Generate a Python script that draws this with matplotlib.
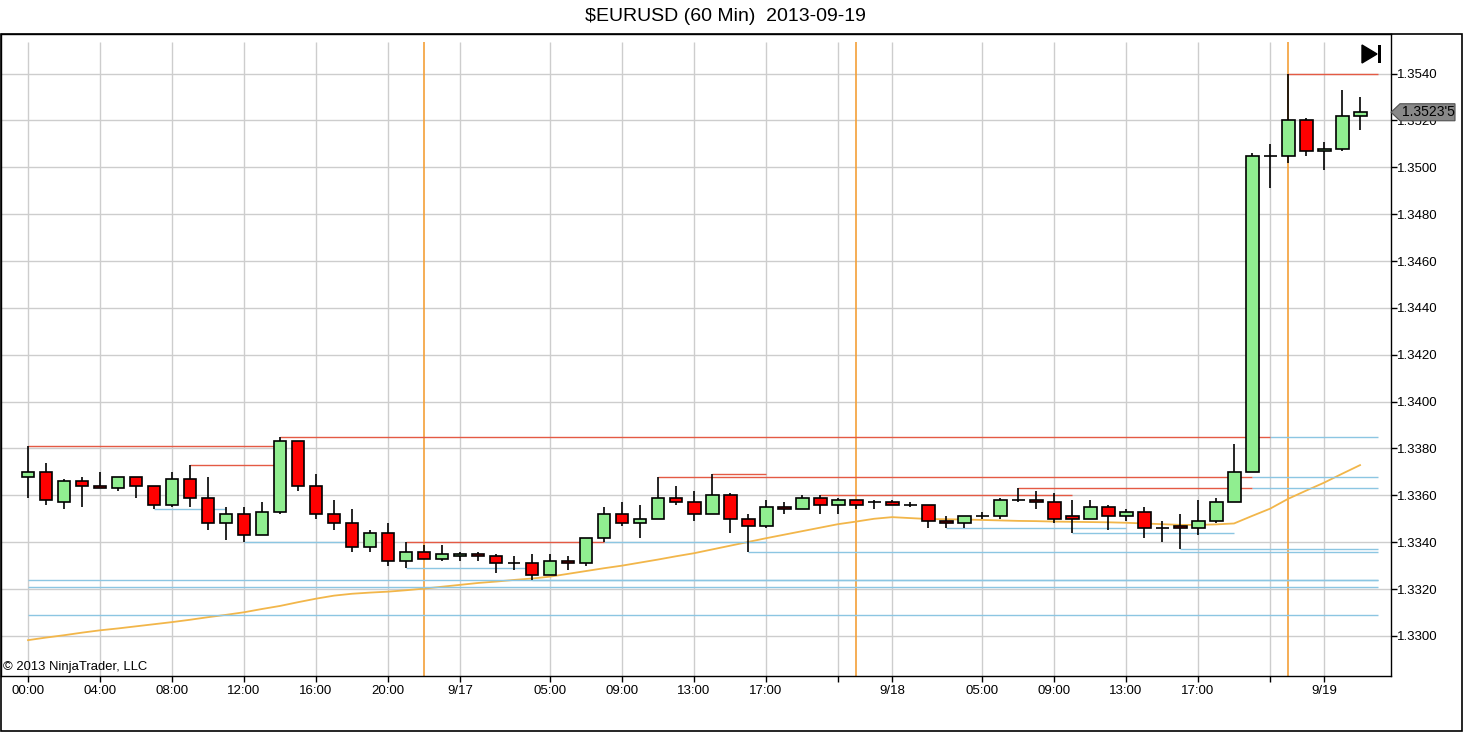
import matplotlib
matplotlib.use('Agg')
import matplotlib.pyplot as plt
from matplotlib.patches import Rectangle, Polygon

W, H = 1463, 732

# hourly bars, 9/16 00:00 .. 9/19 02:00
opens = [1.3368, 1.3370, 1.3357, 1.3366, 1.3364, 1.3363, 1.3368, 1.3364, 1.3356, 1.3367,
         1.3359, 1.3348, 1.3352, 1.3343, 1.3353, 1.3383, 1.3364, 1.3352, 1.3348, 1.3338,
         1.3344, 1.3332, 1.3336, 1.3333, 1.3334, 1.3335, 1.3334, 1.3331, 1.3331, 1.3326,
         1.3332, 1.3331, 1.3342, 1.3352, 1.3348, 1.3350, 1.3359, 1.3357, 1.3352, 1.3360,
         1.3350, 1.3347, 1.3355, 1.3354, 1.3359, 1.3356, 1.3358, 1.3357, 1.3357, 1.3356,
         1.3356, 1.3349, 1.3348, 1.3351, 1.3351, 1.3358, 1.3358, 1.3357, 1.3351, 1.3350,
         1.3355, 1.3351, 1.3353, 1.3346, 1.3347, 1.3346, 1.3349, 1.3357, 1.3370, 1.3505,
         1.3505, 1.3520, 1.3507, 1.3508, 1.3522]
highs = [1.3381, 1.3374, 1.3367, 1.3368, 1.3370, 1.3368, 1.3368, 1.3364, 1.3370, 1.3373,
         1.3368, 1.3355, 1.3355, 1.3357, 1.3385, 1.3383, 1.3369, 1.3358, 1.3354, 1.3345,
         1.3348, 1.3340, 1.3339, 1.3339, 1.3336, 1.3336, 1.3335, 1.3334, 1.3335, 1.3335,
         1.3334, 1.3342, 1.3355, 1.3357, 1.3356, 1.3368, 1.3364, 1.3362, 1.3369, 1.3361,
         1.3352, 1.3358, 1.3357, 1.3360, 1.3360, 1.3359, 1.3358, 1.3358, 1.3358, 1.3357,
         1.3356, 1.3351, 1.3351, 1.3353, 1.3359, 1.3363, 1.3362, 1.3361, 1.3358, 1.3358,
         1.3356, 1.3354, 1.3355, 1.3349, 1.3352, 1.3358, 1.3359, 1.3382, 1.3506, 1.3510,
         1.3540, 1.3521, 1.3511, 1.3533, 1.3530]
lows = [1.3359, 1.3356, 1.3354, 1.3355, 1.3363, 1.3362, 1.3359, 1.3354, 1.3355, 1.3355,
        1.3345, 1.3341, 1.3340, 1.3343, 1.3352, 1.3362, 1.3350, 1.3345, 1.3336, 1.3336,
        1.3330, 1.3329, 1.3333, 1.3332, 1.3332, 1.3332, 1.3327, 1.3328, 1.3324, 1.3326,
        1.3328, 1.3330, 1.3340, 1.3347, 1.3342, 1.3350, 1.3356, 1.3349, 1.3352, 1.3344,
        1.3336, 1.3346, 1.3352, 1.3354, 1.3352, 1.3352, 1.3354, 1.3354, 1.3356, 1.3355,
        1.3346, 1.3346, 1.3346, 1.3350, 1.3350, 1.3357, 1.3354, 1.3348, 1.3344, 1.3350,
        1.3345, 1.3349, 1.3342, 1.3340, 1.3337, 1.3343, 1.3348, 1.3357, 1.3370, 1.3491,
        1.3502, 1.3505, 1.3499, 1.3507, 1.3516]
closes = [1.3370, 1.3358, 1.3366, 1.3364, 1.3363, 1.3368, 1.3364, 1.3356, 1.3367, 1.3359,
          1.3348, 1.3352, 1.3343, 1.3353, 1.3383, 1.3364, 1.3352, 1.3348, 1.3338, 1.3344,
          1.3332, 1.3336, 1.3333, 1.3335, 1.3335, 1.3334, 1.3331, 1.3331, 1.3326, 1.3332,
          1.3331, 1.3342, 1.3352, 1.3348, 1.3350, 1.3359, 1.3357, 1.3352, 1.3360, 1.3350,
          1.3347, 1.3355, 1.3354, 1.3359, 1.3356, 1.3358, 1.3356, 1.3357, 1.3356, 1.3356,
          1.3349, 1.3348, 1.3351, 1.3351, 1.3358, 1.3358, 1.3357, 1.3350, 1.3350, 1.3355,
          1.3351, 1.3353, 1.3346, 1.3346, 1.3346, 1.3349, 1.3357, 1.3370, 1.3505, 1.3505,
          1.3520, 1.3507, 1.3508, 1.3522, 1.35235]

# moving average (orange line)
ma = [1.32982, 1.32993, 1.33003, 1.33014, 1.33024, 1.33032, 1.33041, 1.33050, 1.33059, 1.33069,
      1.33080, 1.33090, 1.33101, 1.33115, 1.33128, 1.33144, 1.33159, 1.33172, 1.33180, 1.33185,
      1.33189, 1.33195, 1.33202, 1.33210, 1.33218, 1.33226, 1.33232, 1.33239, 1.33245, 1.33253,
      1.33265, 1.33277, 1.33289, 1.33300, 1.33313, 1.33326, 1.33340, 1.33353, 1.33369, 1.33385,
      1.33401, 1.33417, 1.33432, 1.33447, 1.33462, 1.33477, 1.33488, 1.33500, 1.33507, 1.33503,
      1.33499, 1.33498, 1.33497, 1.33495, 1.33493, 1.33491, 1.33490, 1.33488, 1.33487, 1.33486,
      1.33485, 1.33483, 1.33480, 1.33477, 1.33474, 1.33474, 1.33476, 1.33480, 1.33512, 1.33543,
      1.33585, 1.33620, 1.33654, 1.33692, 1.33729]

# swing highs (red) and swing lows / broken highs (blue): price, first bar, last bar
res_price = [1.3381, 1.3373, 1.3385, 1.3340, 1.3368, 1.3369, 1.3360, 1.3363, 1.3540]
res_start = [0, 9, 14, 21, 35, 38, 44, 55, 70]
res_end = [14, 14, 69, 32, 68, 41, 58, 68, 75]
sup_price = [1.3354, 1.3340, 1.3329, 1.3324, 1.3324, 1.3321, 1.3309, 1.3340,
             1.3336, 1.3346, 1.3344, 1.3337, 1.3385, 1.3368, 1.3363]
sup_start = [7, 12, 21, 0, 28, 0, 0, 32, 40, 51, 58, 64, 69, 68, 68]
sup_end = [11, 18, 28, 75, 75, 75, 75, 41, 75, 61, 67, 75, 75, 75, 75]

tick_pos = [0, 4, 8, 12, 16, 20, 24, 29, 33, 37, 41, 45, 48, 53, 57, 61, 65, 69, 72]
tick_lab = ['00:00', '04:00', '08:00', '12:00', '16:00', '20:00', '9/17', '05:00', '09:00',
            '13:00', '17:00', '', '9/18', '05:00', '09:00', '13:00', '17:00', '', '9/19']
session_breaks = [22, 46, 70]
price_ticks = [1.3300 + 0.002 * k for k in range(13)]
last_label = "1.3523'5"

plt.rcParams['font.family'] = ['Liberation Sans', 'DejaVu Sans']

fig = plt.figure(figsize=(W / 100, H / 100), dpi=100)
ax = fig.add_axes([1 / W, (H - 676) / H, 1390 / W, 642 / H])

ylo, yhi = 1.32829, 1.35569
ax.set_xlim(-1.5, 75.72)
ax.set_ylim(ylo, yhi)
ax.set_axisbelow(True)
grid_top = 1.35535  # vertical lines stop a little below the top frame

ax.set_xticks(tick_pos)
ax.set_xticklabels(tick_lab)
ax.set_yticks(price_ticks)
ax.set_yticklabels(['%.4f' % p for p in price_ticks])
ax.yaxis.tick_right()
ax.tick_params(axis='both', direction='out', length=4, width=1, labelsize=9.5, colors='black')
ax.tick_params(axis='y', pad=0.5)
ax.tick_params(axis='x', pad=2.5)
ax.grid(True, axis='y', color='#cdcdcd', lw=1)
ax.vlines(tick_pos, ylo, grid_top, color='#cdcdcd', lw=1, zorder=0)
for s in ax.spines.values():
    s.set_color('black')
    s.set_linewidth(1)

ax.vlines(session_breaks, ylo, grid_top, color='#f4a038', lw=1.2, zorder=1)

ax.plot(range(len(ma)), ma, color='#f2b64a', lw=1.3, zorder=2)

ax.hlines(sup_price, sup_start, sup_end, color='#8cc6e2', lw=1, zorder=2)
ax.hlines(res_price, res_start, res_end, color='#e45a44', lw=1, zorder=2)

# candles
for i in range(len(opens)):
    o, h, l, c = opens[i], highs[i], lows[i], closes[i]
    ax.vlines(i, l, h, color='black', lw=1.2, zorder=3)
    fc = '#90ee90' if c > o else ('#ff0000' if c < o else 'black')
    ax.add_patch(Rectangle((i - 0.36, min(o, c)), 0.72, abs(c - o),
                           fc=fc, ec='black', lw=1.2, zorder=4))

ax.text(0.0015, 0.005, '\u00a9 2013 NinjaTrader, LLC', transform=ax.transAxes,
        ha='left', va='bottom', fontsize=9.4)

# last price marker, drawn in pixels next to the right axis
x_r = ax.transAxes.transform((1, 0))[0]
y_c = ax.transData.transform((0, closes[-1]))[1]
marker = Polygon([(x_r, y_c), (x_r + 9, y_c + 8.5), (x_r + 64, y_c + 8.5),
                  (x_r + 64, y_c - 8.5), (x_r + 9, y_c - 8.5)], closed=True,
                 fc='#888888', ec='#505050', lw=0.8, transform=None, zorder=10)
fig.add_artist(marker)
fig.text((x_r + 11) / W, y_c / H, last_label, ha='left', va='center', fontsize=10,
         color='black', zorder=11)


def fxy(px, py):
    return (px / W, 1 - py / H)


# "go to end" icon
fig.add_artist(Polygon([fxy(1362, 45), fxy(1362, 63), fxy(1377, 54)],
                       closed=True, fc='black', ec='black', transform=fig.transFigure))
fig.add_artist(Rectangle(fxy(1378, 63), 3 / W, 18 / H, fc='black', ec='none',
                         transform=fig.transFigure))

# outer frame
fig.add_artist(Rectangle((1 / W, 1 / H), 1461 / W, 697 / H, fill=False, ec='black',
                         lw=1.2, transform=fig.transFigure))

fig.text(725.5 / W, 1 - 16.5 / H, '$EURUSD (60 Min)  2013-09-19', ha='center', va='center',
         fontsize=14)

fig.savefig('out.png', dpi=100)
